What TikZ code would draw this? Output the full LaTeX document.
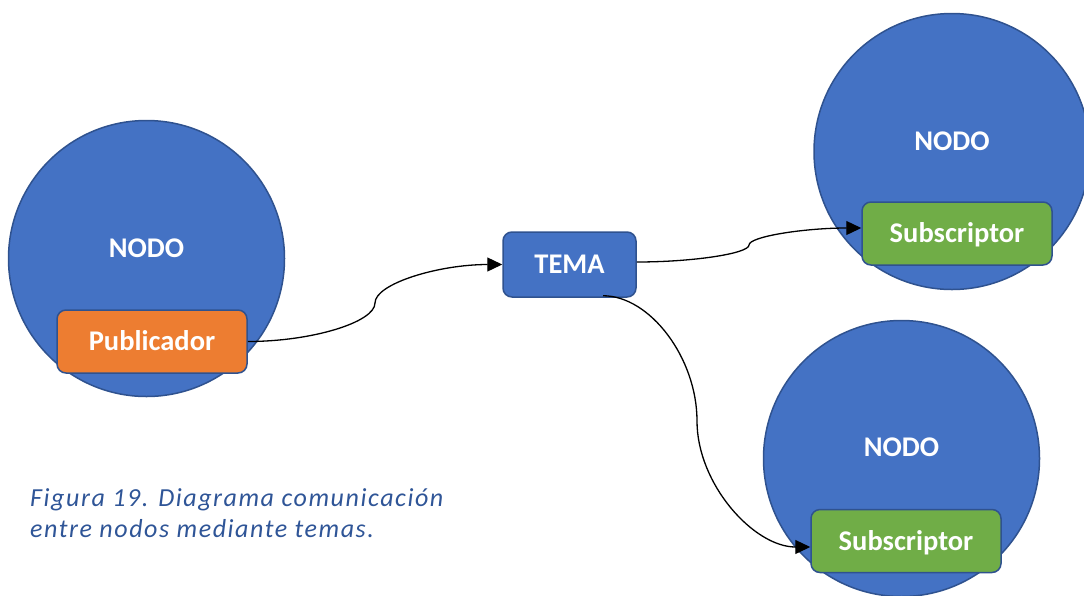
\documentclass[tikz,border=0pt]{standalone}
\usepackage{fontspec}
\setmainfont{Carlito}
\newfontfamily\capfont[LetterSpace=6]{Carlito}
\usetikzlibrary{arrows.meta,calc}
\definecolor{nodeblue}{HTML}{4472C4}
\definecolor{edgeblue}{HTML}{2F528F}
\definecolor{puborange}{HTML}{ED7D31}
\definecolor{subgreen}{HTML}{70AD47}
\definecolor{captionblue}{HTML}{2F5597}
\tikzset{
  nodocircle/.style={circle, fill=nodeblue, draw=edgeblue, line width=1.5pt,
    minimum size=276pt, inner sep=0pt},
  nodolabel/.style={text=white, font=\fontsize{28.5}{30}\selectfont\bfseries,
    text height=18pt, text depth=0pt, inner sep=0pt},
  rolebox/.style={rounded corners=9pt, draw=edgeblue, line width=1.5pt,
    minimum width=190pt, minimum height=63pt, inner sep=0pt, text=white,
    font=\fontsize{28.5}{30}\selectfont\bfseries, text height=18pt, text depth=0pt},
  pubbox/.style={rolebox, fill=puborange},
  subbox/.style={rolebox, fill=subgreen},
  temabox/.style={rolebox, fill=nodeblue, minimum width=133pt, minimum height=65pt},
  conn/.style={draw=black, line width=1.3pt, -{Triangle[length=15pt,width=14pt]}},
  caption/.style={text=captionblue, align=left, inner sep=0pt,
    font=\capfont\itshape\fontsize{26}{30}\selectfont}
}
\begin{document}
\begin{tikzpicture}[x=1pt,y=-1pt]
\useasboundingbox (0,0) rectangle (1084,595);

% the three nodes
\node[nodocircle] (n1) at (146.5,258.5) {};
\node[nodocircle] (n2) at (952,151.5) {};
\node[nodocircle] (n3) at (901.5,458.5) {};
\node[nodolabel] (l1) at ([yshift=10.5pt]n1.center) {NODO};
\node[nodolabel] (l2) at ([yshift=10.5pt]n2.center) {NODO};
\node[nodolabel] (l3) at ([yshift=11pt]n3.center) {NODO};

% publisher, topic and subscribers
\node[pubbox] (pub) at (152,341.5) {Publicador};
\node[temabox] (tema) at (569.5,264.5) {TEMA};
\node[subbox] (sub1) at (957,233.5) {Subscriptor};
\node[subbox] (sub2) at (906,541) {Subscriptor};

% connector end points and midpoints
\coordinate (s0) at (pub.east);
\coordinate (e0) at (tema.west);
\coordinate (m0) at ($(s0)!0.5!(e0)$);
\coordinate (s1) at ([yshift=2.5pt]tema.east);
\coordinate (e1) at ([yshift=5.5pt]sub1.west);
\coordinate (m1) at ($(s1)!0.5!(e1)$);
\coordinate (s2) at ([xshift=33.5pt,yshift=2pt]tema.south);
\coordinate (e2) at ([yshift=-6pt]sub2.west);
\coordinate (m2) at (697,421);

% curved connectors
\draw[conn] (s0) .. controls +(64,0) and +(0,19.25) .. (m0)
                 .. controls +(0,-19.25) and +(-64,0) .. (e0);
\draw[conn] (s1) .. controls +(56.5,0) and +(0,8.5) .. (m1)
                 .. controls +(0,-8.5) and +(-56.5,0) .. (e1);
\draw[conn] (s2) .. controls +(47,0) and +(0,-63) .. (m2)
                 .. controls +(0,63) and +(-56.5,0) .. (e2);

% figure caption (anchored on the baseline of its last line)
\node[caption, anchor=base west] (cap) at (30,537)
  {Figura 19. Diagrama comunicación\\[1pt]entre nodos mediante temas.};
\end{tikzpicture}
\end{document}
